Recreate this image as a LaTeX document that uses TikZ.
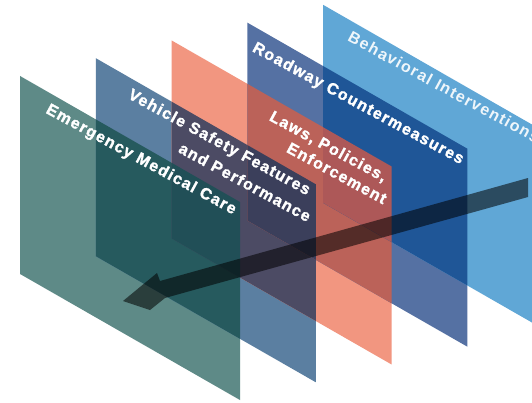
\documentclass[tikz,border=0pt]{standalone}
\usepackage{fontspec}
\setmainfont{Liberation Sans}[LetterSpace=8]
\newfontfamily\heavyfont{Liberation Sans Bold}[LetterSpace=8, FakeBold=1.6]
\newfontfamily\boldfont{Liberation Sans Bold}[LetterSpace=8]
\definecolor{cA}{HTML}{5E8A87}
\definecolor{cB}{HTML}{5B7FA1}
\definecolor{cC}{HTML}{F29680}
\definecolor{cD}{HTML}{5571A3}
\definecolor{cE}{HTML}{60A7D6}
\definecolor{cAB}{HTML}{265A5E}
\definecolor{cBC}{HTML}{4C4B64}
\definecolor{cCD}{HTML}{BB6259}
\definecolor{cDE}{HTML}{1F5697}
\definecolor{cABC}{HTML}{214F57}
\definecolor{cBCD}{HTML}{3B3F5B}
\definecolor{cCDE}{HTML}{AD5858}
\tikzset{
  lbl/.style={text=white, font=\heavyfont\fontsize{16}{19}\selectfont, rotate=-28.5, inner sep=0pt},
  lightlbl/.style={text=white, font=\boldfont\fontsize{16}{19}\selectfont, rotate=-28.5, inner sep=0pt, text opacity=0.9},
  arrowshape/.style={fill=black, fill opacity=0.55}
}
\begin{document}
\begin{tikzpicture}[x=1pt,y=-1pt]
\path[use as bounding box] (0,0) rectangle (532,402);
\fill[white] (0,0) rectangle (532,402);
\clip (0,0) rectangle (532,402);
\begin{scope}[x={(1pt,-0.573pt)}, y={(0pt,-1pt)}]
% single panels
\fill[cA] (20,64.5) -- (240,64.5) -- (240,262.5) -- (20,262.5) -- cycle;
\fill[cB] (95.75,3.3) -- (315.75,3.3) -- (315.75,201.3) -- (95.75,201.3) -- cycle;
\fill[cC] (171.5,-57.9) -- (391.5,-57.9) -- (391.5,140.1) -- (171.5,140.1) -- cycle;
\fill[cD] (247.25,-119.1) -- (467.25,-119.1) -- (467.25,78.9) -- (247.25,78.9) -- cycle;
\fill[cE] (323,-180.3) -- (543,-180.3) -- (543,17.7) -- (323,17.7) -- cycle;
% pair overlaps
\fill[cAB] (95.75,64.5) -- (240,64.5) -- (240,201.3) -- (95.75,201.3) -- cycle;
\fill[cBC] (171.5,3.3) -- (315.75,3.3) -- (315.75,140.1) -- (171.5,140.1) -- cycle;
\fill[cCD] (247.25,-57.9) -- (391.5,-57.9) -- (391.5,78.9) -- (247.25,78.9) -- cycle;
\fill[cDE] (323,-119.1) -- (467.25,-119.1) -- (467.25,17.7) -- (323,17.7) -- cycle;
% triple overlaps
\fill[cABC] (171.5,64.5) -- (240,64.5) -- (240,140.1) -- (171.5,140.1) -- cycle;
\fill[cBCD] (247.25,3.3) -- (315.75,3.3) -- (315.75,78.9) -- (247.25,78.9) -- cycle;
\fill[cCDE] (323,-57.9) -- (391.5,-57.9) -- (391.5,17.7) -- (323,17.7) -- cycle;
\end{scope}
% labels
\node[lbl] (emc) at (141,160) {Emergency Medical Care};
\node[lbl] (vsf1) at (219,143) {Vehicle Safety Features};
\node[lbl] (vsf2) at (245,182) {and Performance};
\node[lbl] (law1) at (328,147) {Laws, Policies,};
\node[lbl] (law2) at (337,173) {Enforcement};
\node[lbl] (road) at (358,104) {Roadway Countermeasures};
\node[lightlbl] (beh) at (444,87) {Behavioral Interventions};
% arrow through the layers
\coordinate (tail1) at (528,178);
\coordinate (tail2) at (528,197);
\coordinate (tip) at (123,301);
\fill[arrowshape] (tail1) -- (160,281) -- (157,273) -- (tip) -- (150,310) -- (165,298) -- (tail2) -- cycle;
\end{tikzpicture}
\end{document}
